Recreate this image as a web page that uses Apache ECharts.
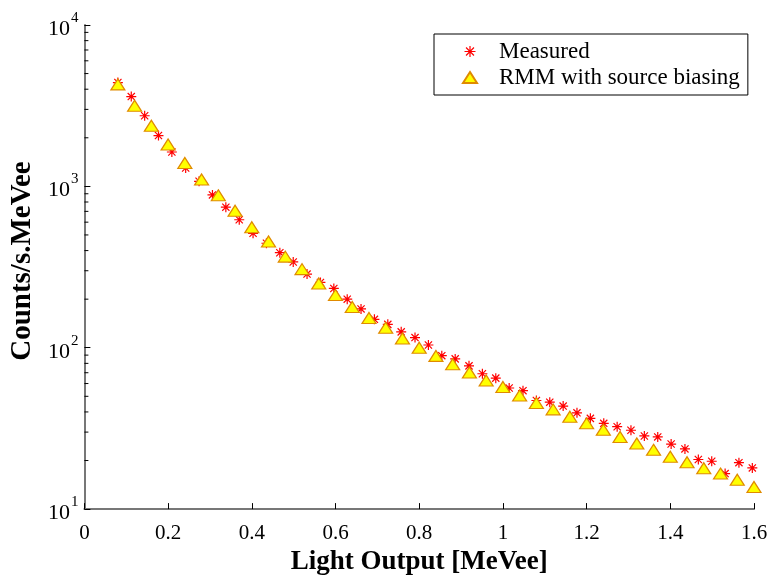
<!DOCTYPE html>
<html>
<head>
<meta charset="utf-8">
<script src="https://cdn.jsdelivr.net/npm/echarts@6/dist/echarts.min.js"></script>
<style>html,body{margin:0;padding:0;background:#fff;}#chart{width:775px;height:581px;}</style>
</head>
<body>
<div id="chart"></div>
<script>
// ---- data ----
const measuredX = [0.080,0.112,0.144,0.177,0.209,0.242,0.274,0.306,0.338,0.370,
  0.403,0.435,0.467,0.499,0.532,0.564,0.596,0.628,0.661,0.693,
  0.725,0.757,0.790,0.822,0.854,0.886,0.919,0.951,0.983,1.015,
  1.048,1.080,1.112,1.144,1.177,1.209,1.241,1.273,1.306,1.338,
  1.370,1.402,1.435,1.467,1.499,1.531,1.564,1.596];
const measuredY = [4400,3600,2740,2065,1633,1300,1075,885,743,621,
  512,444,388,340,286,254,233,200,174,150,
  139.6,125.4,115.6,104,89.3,85.3,77.2,69,64.8,56.3,
  54.2,47.1,46.0,43.5,39.5,36.5,34.0,32.4,30.8,28.4,
  28.0,25.3,23.6,20.3,19.8,16.6,19.4,18.0];
const rmmX = [0.08,0.12,0.16,0.20,0.24,0.28,0.32,0.36,0.40,0.44,
  0.48,0.52,0.56,0.60,0.64,0.68,0.72,0.76,0.80,0.84,
  0.88,0.92,0.96,1.00,1.04,1.08,1.12,1.16,1.20,1.24,
  1.28,1.32,1.36,1.40,1.44,1.48,1.52,1.56,1.60];
const rmmY = [4285,3160,2377,1818,1397,1104,880,706,558,455,
  367,307,250,212,179,153,133,114,100,89,
  79,70.3,62.7,57.1,50.6,45.5,41.5,37.4,34.0,31.0,
  28.0,25.5,23.3,21.1,19.5,17.9,16.6,15.2,13.7];
const seriesNames = ['Measured', 'RMM with source biasing'];
const xTickValues = [0,0.2,0.4,0.6,0.8,1,1.2,1.4,1.6];
const xTickLabels = ['0','0.2','0.4','0.6','0.8','1','1.2','1.4','1.6'];
const yTickValues = [10,100,1000,10000];
const yTickExponents = ['1','2','3','4'];
const yMinorTicks = [20,30,40,50,60,70,80,90,200,300,400,500,600,700,800,900,
  2000,3000,4000,5000,6000,7000,8000,9000];
const xTitle = 'Light Output [MeVee]';
const yTitle = 'Counts/s.MeVee';

// ---- chart ----
const FONT = '"Liberation Serif","Times New Roman",serif';
const star = 'path://M0,-5L0,5M-5,0L5,0M-3.6,-3.6L3.6,3.6M-3.6,3.6L3.6,-3.6';

const chart = echarts.init(document.getElementById('chart'), null, {renderer: 'canvas'});
const option = {
  animation: false,
  backgroundColor: '#fff',
  grid: {left: 83, right: 21, top: 25, bottom: 67, containLabel: false},
  legend: {
    orient: 'vertical', left: 434, top: 34,
    padding: [6, 8, 6, 28],
    itemWidth: 14, itemHeight: 11, itemGap: 3,
    borderColor: '#000', borderWidth: 1, backgroundColor: '#fff',
    textStyle: {fontFamily: FONT, fontSize: 23, color: '#000', lineHeight: 23, padding: [0, 0, 0, 17]},
    data: [
      {name: seriesNames[0], icon: star, itemStyle: {color: '#ff0000', borderColor: '#ff0000', borderWidth: 1.2}},
      {name: seriesNames[1], icon: 'triangle'}
    ]
  },
  xAxis: {
    type: 'value', min: 0, max: 1.6, interval: 0.2,
    name: xTitle, nameLocation: 'middle', nameGap: 30,
    nameTextStyle: {fontFamily: FONT, fontSize: 27, fontWeight: 'bold', color: '#000'},
    axisLine: {show: true, onZero: false, lineStyle: {color: '#777', width: 2}},
    axisTick: {show: true, inside: true, length: 6, lineStyle: {color: '#000', width: 1}},
    axisLabel: {
      fontFamily: FONT, fontSize: 21, color: '#000', margin: 14,
      formatter: v => { const i = xTickValues.findIndex(t => Math.abs(t - v) < 1e-9); return i >= 0 ? xTickLabels[i] : ''; }
    },
    splitLine: {show: false}
  },
  yAxis: {
    type: 'log', logBase: 10, min: 10, max: 10000,
    name: yTitle, nameLocation: 'middle', nameGap: 39,
    nameTextStyle: {fontFamily: FONT, fontSize: 29, fontWeight: 'bold', color: '#000', padding: [0, 0, 0, 12]},
    axisLine: {show: true, onZero: false, lineStyle: {color: '#777', width: 2}},
    axisTick: {show: true, inside: true, length: 6, lineStyle: {color: '#000', width: 1}},
    axisLabel: {
      margin: 6, color: '#000',
      formatter: v => { const i = yTickValues.findIndex(t => Math.abs(t - v) < 1e-6 * t); return i >= 0 ? '{b|10}{s|' + yTickExponents[i] + '}' : ''; },
      rich: {
        b: {fontFamily: FONT, fontSize: 22, color: '#000', padding: [8, 0, 0, 0]},
        s: {fontFamily: FONT, fontSize: 15, color: '#000', padding: [0, 0, 14, 1]}
      }
    },
    splitLine: {show: false}
  },
  series: [
    {
      name: 'minorTicks', type: 'custom', silent: true, clip: false, z: 1,
      data: yMinorTicks.map(v => [0, v]),
      encode: {x: 0, y: 1},
      renderItem: (params, api) => {
        const p = api.coord([0, api.value(1)]);
        return {type: 'line', shape: {x1: p[0], y1: p[1], x2: p[0] + 4, y2: p[1]}, style: {stroke: '#000', lineWidth: 1}};
      }
    },
    {
      name: seriesNames[0], type: 'scatter', z: 3,
      symbol: star, symbolSize: 10,
      itemStyle: {color: '#ff0000', borderColor: '#ff0000', borderWidth: 1.2, opacity: 1},
      data: measuredX.map((x, i) => [x, measuredY[i]])
    },
    {
      name: seriesNames[1], type: 'scatter', z: 4,
      symbol: 'triangle', symbolSize: [14, 11],
      itemStyle: {color: '#ffff00', borderColor: '#e08a00', borderWidth: 1.2, opacity: 1},
      data: rmmX.map((x, i) => [x, rmmY[i]])
    }
  ]
};
chart.setOption(option);
</script>
</body>
</html>
